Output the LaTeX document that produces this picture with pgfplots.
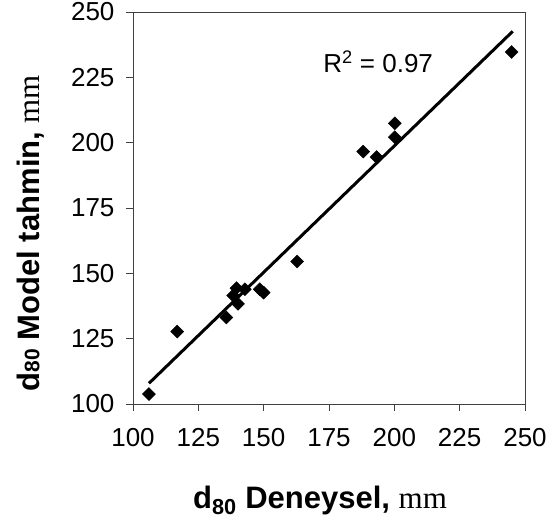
\documentclass[border=0pt]{standalone}
\usepackage{fontspec}
\setmainfont{Liberation Sans}
\newfontfamily\serif{Liberation Serif}
\usepackage{pgfplots}
\pgfplotsset{compat=1.18}
\begin{document}
\begin{tikzpicture}
\useasboundingbox (-133pt,-117pt) rectangle (417pt,404pt);
\begin{axis}[
scale only axis,
width=392pt,height=392pt,
xmin=100,xmax=250,ymin=100,ymax=250,
xtick={100,125,...,250},ytick={100,125,...,250},
xtick pos=bottom,ytick pos=left,
tick align=outside,
major tick length=7pt,
axis line style={black!75,line width=0.9pt},
every tick/.style={black!75,line width=0.9pt},
/pgf/number format/assume math mode=true,
ticklabel style={font=\fontsize{26}{28}\selectfont},
xticklabel style={yshift=-14pt},
yticklabel style={xshift=-8pt},
xlabel={\textbf{d\textsubscript{80} Deneysel, }{\serif\mdseries mm}},
ylabel={\textbf{d{\fontsize{21}{22}\selectfont 80} Model tahmin, }{\serif\mdseries mm}},
xlabel style={font=\bfseries\fontsize{31}{33}\selectfont,yshift=-32pt,xshift=-9pt},
ylabel style={font=\bfseries\fontsize{31}{33}\selectfont,yshift=20pt,xshift=-25pt},
]
\addplot[only marks,mark=square*,mark size=4.6pt,mark options={rotate=45,fill=black}] coordinates {
(106.1,103.8)(116.9,127.7)(135.7,133.1)(138.3,141.5)(139.6,144.3)
(140.2,138.3)(142.8,143.9)(148.5,143.9)(150.0,142.6)(162.8,154.5)
(188.1,196.6)(193.2,194.5)(200.2,207.4)(200.2,202.1)(244.9,234.7)
};
\addplot[black,line width=3pt] coordinates {(106.1,107.9)(245.3,242.6)};
\node[font=\fontsize{26}{28}\selectfont] at (axis cs:193.8,231.1) {R\textsuperscript{2} = 0.97};
\end{axis}
\end{tikzpicture}
\end{document}
